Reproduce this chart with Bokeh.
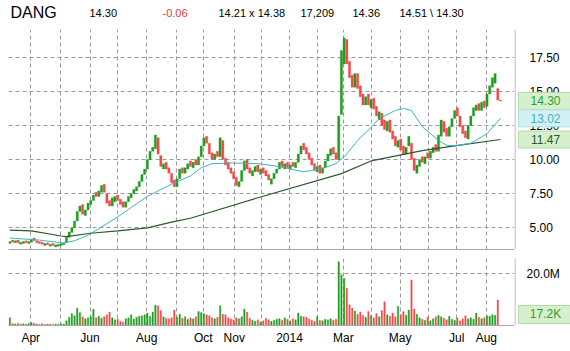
import pandas as pd
from bokeh.plotting import figure
from bokeh.layouts import column, row
from bokeh.models import FixedTicker, Range1d, ColumnDataSource, Span
from bokeh.core.properties import value
from bokeh.embed import file_html
from bokeh.resources import INLINE

# ---------------- data ----------------
symbol = "DANG"
header_texts = ["14.30", "-0.06", "14.21  x  14.38", "17,209", "14.36", "14.51 \\ 14.30"]

# each candle = 2 trading days, 2013-03-07 .. 2014-08-15
opens = [3.85, 4.10, 3.90, 4.10, 3.80, 3.85, 4.05, 3.85, 3.95, 4.25,
         4.05, 4.00, 3.95, 3.70, 3.90, 3.65, 3.85, 3.60, 3.65, 3.70,
         3.75, 3.95, 4.30, 4.65, 5.00, 5.50, 6.20, 6.70, 5.90, 6.30,
         6.70, 7.00, 7.60, 7.30, 7.60, 8.20, 7.50, 7.00, 6.60, 6.90,
         7.40, 7.10, 6.90, 6.50, 6.90, 7.20, 7.50, 7.70, 8.00, 8.40,
         8.90, 9.30, 10.00, 10.60, 10.80, 11.60, 10.30, 9.30, 9.80, 9.40,
         9.00, 8.50, 8.00, 8.60, 9.40, 9.00, 9.30, 9.90, 9.40, 10.00,
         9.60, 10.20, 11.00, 11.70, 11.20, 10.50, 10.00, 10.60, 10.20, 11.40,
         10.10, 9.80, 9.40, 9.10, 8.70, 8.00, 8.40, 9.20, 10.00, 9.40,
         8.80, 9.10, 9.60, 8.90, 9.40,
         9.2, 8.9, 8.2, 8.6, 9.0, 9.3, 9.9, 9.3, 9.8, 9.3,
         9.8, 9.4, 9.8, 10.4, 11.2, 10.9, 10.5, 10.1, 9.7, 9.1,
         9.6, 9.0, 9.4, 9.9, 10.3, 10.9, 10.5, 10.0, 13.3, 17.0,
         18.8, 17.2, 16.2, 15.3, 16.3, 15.4,
         14.8, 14.0, 14.8, 13.8, 14.5, 13.9, 12.9, 13.4, 12.9, 12.1,
         12.9, 12.1, 11.7, 10.9, 11.5, 11.0, 10.4, 11.0, 11.2, 10.1,
         9.0, 9.5, 10.2, 9.7, 10.5, 10.1, 10.5, 11.1, 10.6, 11.7,
         12.8, 12.3, 11.7, 12.4, 13.0, 13.8, 13.2, 12.5, 12.1, 11.5,
         12.5, 13.2, 13.6, 14.1, 13.6, 14.3, 13.9, 14.8, 15.3, 15.6,
         15.2, 14.36]

closes = [4.00, 3.95, 4.05, 3.90, 3.95, 4.00, 3.90, 4.00, 4.15, 4.05,
          3.90, 3.85, 3.80, 3.85, 3.75, 3.80, 3.70, 3.75, 3.80, 3.85,
          3.90, 4.30, 4.70, 5.00, 5.50, 6.20, 6.60, 6.00, 6.30, 6.80,
          7.00, 7.40, 7.30, 7.70, 8.10, 7.60, 6.80, 6.60, 7.20, 7.30,
          7.00, 6.70, 6.50, 6.90, 7.30, 7.50, 7.80, 8.00, 8.40, 8.90,
          9.30, 10.00, 10.60, 10.90, 11.80, 10.40, 9.50, 9.70, 9.30, 9.00,
          8.30, 8.00, 8.60, 9.30, 9.00, 9.40, 9.70, 9.50, 9.80, 9.60,
          10.20, 11.00, 11.60, 11.20, 10.40, 10.00, 10.40, 10.20, 11.60, 10.00,
          9.60, 9.30, 9.00, 8.60, 8.10, 8.40, 9.20, 9.90, 9.30, 9.00,
          9.20, 9.50, 9.10, 9.30, 9.00,
          8.8, 8.5, 8.6, 9.0, 9.3, 9.8, 9.5, 9.7, 9.4, 9.6,
          9.5, 9.8, 10.4, 11.0, 10.7, 10.4, 10.0, 9.6, 9.2, 9.5,
          9.0, 9.4, 9.9, 10.4, 10.8, 10.4, 10.0, 13.2, 18.0, 18.9,
          17.0, 16.0, 15.3, 16.3, 15.2, 14.6,
          14.0, 14.6, 14.0, 14.4, 13.7, 13.2, 13.5, 12.5, 12.2, 12.8,
          12.0, 11.5, 11.0, 11.4, 10.7, 10.4, 10.9, 11.7, 10.0, 9.2,
          9.6, 10.0, 9.8, 10.2, 10.1, 10.6, 10.9, 10.6, 11.8, 12.9,
          12.0, 11.7, 12.4, 13.0, 13.6, 13.2, 12.4, 11.9, 11.6, 12.5,
          13.2, 13.8, 14.0, 13.6, 14.2, 13.8, 14.8, 15.4, 16.0, 16.3,
          14.36, 14.30]

volumes_m = [3.0, 0.8, 0.6, 0.9, 0.5, 0.7, 0.6, 0.8, 1.2, 0.9,
             0.6, 0.5, 0.7, 0.4, 0.6, 0.5, 0.4, 0.6, 0.5, 0.7,
             0.6, 1.8, 3.2, 4.6, 3.8, 6.7, 5.0, 3.4, 2.6, 3.0,
             3.5, 6.3, 3.0, 3.6, 2.8, 3.4, 4.2, 5.2, 3.0, 2.2,
             2.4, 1.6, 1.4, 2.6, 3.0, 4.2, 2.5, 3.2, 3.6, 3.8,
             4.2, 4.8, 3.6, 5.2, 7.9, 7.6, 5.8, 3.4, 2.8, 2.6,
             3.0, 6.0, 3.2, 4.4, 2.8, 3.4, 2.4, 3.0, 2.6, 3.4,
             5.4, 5.0, 4.6, 4.2, 3.8, 3.0, 2.6, 3.2, 7.6, 4.4,
             4.2, 3.0, 2.6, 2.2, 3.0, 2.6, 3.4, 6.4, 5.2, 2.8,
             2.0, 1.6, 2.2, 1.4, 1.8,
             2.8, 2.2, 1.6, 2.0, 2.4, 2.6, 2.0, 3.0, 2.4, 1.8,
             2.6, 2.2, 4.8, 3.6, 3.4, 3.2, 2.6, 2.0, 1.6, 3.4,
             2.0, 1.8, 2.4, 2.2, 2.6, 2.0, 2.4, 24.7, 19.6, 18.3,
             14.4, 8.0, 6.8, 5.6, 4.4, 5.2,
             4.0, 3.2, 5.4, 3.8, 3.0, 4.6, 3.4, 5.8, 9.2, 4.2,
             3.6, 4.8, 3.4, 7.4, 4.2, 5.4, 4.0, 6.0, 17.6, 6.4,
             4.4, 3.0, 2.4, 2.0, 3.2, 1.8, 2.6, 3.4, 4.0, 3.4,
             2.8, 2.2, 3.6, 2.4, 2.0, 3.0, 1.8, 2.6, 3.8, 2.6,
             3.0, 2.4, 4.8, 3.2, 2.6, 3.0, 3.8, 3.6, 4.2, 4.0,
             9.9, 0.0172]

# 50-day moving average (cyan), sampled at candle positions
ma50_idx = [0, 11, 20, 24, 29, 40, 51, 60, 67, 71, 75, 82, 92, 98, 103,
            109, 116, 121, 125, 129, 134, 137, 143, 146, 149, 151, 153,
            159, 162, 165, 171, 177, 182]
ma50_val = [4.25, 4.10, 3.88, 4.05, 4.45, 5.80, 7.30, 8.20, 8.80, 9.40,
            9.70, 9.75, 9.70, 9.55, 9.35, 9.10, 9.35, 9.70, 10.40, 11.40,
            12.35, 13.00, 13.60, 13.75, 13.60, 13.00, 12.40, 11.40, 11.05,
            11.00, 11.20, 11.90, 13.02]

# 200-day moving average (dark green)
ma200_idx = [0, 8, 19, 21, 30, 40, 51, 60, 67, 92, 123, 134, 153, 165, 182]
ma200_val = [4.83, 4.78, 4.40, 4.35, 4.60, 4.78, 5.00, 5.42, 5.70, 7.20,
             8.97, 9.90, 10.65, 11.00, 11.47]

last_values = [14.30, 13.02, 11.47]
last_volume_text = "17.2K"

price_ticks = [5.0, 7.5, 10.0, 12.5, 15.0, 17.5]
volume_ticks = [20.0]
volume_tick_labels = ["20.0M"]
month_labels = ["Apr", "", "Jun", "", "Aug", "", "Oct", "Nov", "", "2014",
                "", "Mar", "", "May", "", "Jul", "Aug"]
holidays = ["2013-03-29", "2013-05-27", "2013-07-04", "2013-09-02",
            "2013-11-28", "2013-12-25", "2014-01-01", "2014-01-20",
            "2014-02-17", "2014-04-18", "2014-05-26", "2014-07-04"]

# ---------------- derived positions ----------------
days = pd.bdate_range("2013-03-07", "2014-08-15", freq="C", holidays=holidays)
month_starts = [i for i in range(1, len(days)) if days[i].month != days[i - 1].month]
month_ticks = [(d - 0.5) / 2.0 for d in month_starts]
label_ticks = [t for t, lab in zip(month_ticks, month_labels) if lab]
label_names = [lab for lab in month_labels if lab]

n = len(closes)
idx = list(range(n))
GREEN = "#1f9e1f"
RED = "#f24a4a"
BROWN = "#a8703a"
colors = []
for i in range(n):
    prev = closes[i - 1] if i > 0 else opens[i]
    if closes[i] >= opens[i] and closes[i] >= prev:
        colors.append(GREEN)
    elif closes[i] < opens[i] and closes[i] < prev:
        colors.append(RED)
    else:
        colors.append(BROWN)

src = ColumnDataSource(dict(
    x=idx,
    top=[max(o, c) for o, c in zip(opens, closes)],
    bottom=[min(o, c) for o, c in zip(opens, closes)],
    vol=volumes_m,
    color=colors,
))

FONT = "Liberation Sans"
GRID_COLOR = "#9a9a9a"
AXIS_COLOR = "#a8a8a8"


def base(fig):
    fig.outline_line_color = None
    fig.background_fill_color = "white"
    fig.border_fill_color = "white"
    return fig


def style_grid(g):
    g.grid_line_color = GRID_COLOR
    g.grid_line_dash = "4 3"
    g.grid_line_width = 1


# ---------------- header ----------------
h = base(figure(width=570, height=29, x_range=Range1d(0, 570), y_range=Range1d(29, 0),
                x_axis_location=None, y_axis_location=None, output_backend="svg",
                toolbar_location=None, min_border_left=0, min_border_right=0,
                min_border_top=0, min_border_bottom=0))
h.grid.visible = False
h.text(x=[10], y=[12], text=[symbol], text_font=value(FONT), text_font_size="16px",
       text_color="black", text_baseline="middle", text_align="left")
h.text(x=[89, 162, 218, 300, 352, 399], y=[12] * 6, text=header_texts,
       text_color=["black", "#e03c3c", "black", "black", "black", "black"],
       text_font=value(FONT), text_font_size="11px",
       text_baseline="middle", text_align="left")

# ---------------- price panel ----------------
xr = Range1d(-0.5, 187.2)
p = base(figure(width=514, height=226, x_range=xr, y_range=Range1d(3.41, 19.53),
                output_backend="svg", toolbar_location=None, y_axis_location=None,
                x_axis_location="below", min_border_left=8, min_border_right=0,
                min_border_top=0, min_border_bottom=6))
p.xaxis.ticker = FixedTicker(ticks=[])
p.xaxis.major_label_standoff = 0
p.xaxis.major_tick_out = 0
p.xaxis.major_tick_in = 0
p.xaxis.minor_tick_out = 0
p.xaxis.minor_tick_in = 0
p.xaxis.axis_line_color = AXIS_COLOR
p.xgrid.ticker = FixedTicker(ticks=month_ticks)
p.ygrid.ticker = FixedTicker(ticks=price_ticks)
style_grid(p.xgrid)
style_grid(p.ygrid)

p.vbar(x="x", width=0.85, top="top", bottom="bottom", source=src,
       fill_color="color", line_color="color", line_width=0.3)
p.line(ma200_idx, ma200_val, color="#2b5a2b", line_width=1.2)
p.line(ma50_idx, ma50_val, color="#3fb3c6", line_width=1.0)

# price side (right axis + value boxes)
ps = base(figure(width=56, height=226, x_range=Range1d(0, 56), y_range=p.y_range,
                 x_axis_location=None, y_axis_location=None, output_backend="svg",
                 toolbar_location=None, min_border_left=0, min_border_right=0,
                 min_border_top=0, min_border_bottom=6))
ps.grid.visible = False
ps.add_layout(Span(location=0.5, dimension="height", line_color=AXIS_COLOR, line_width=1))
ps.text(x=[15] * len(price_ticks), y=price_ticks, text=[f"{t:.2f}" for t in price_ticks],
        text_font=value(FONT), text_font_size="12px", text_color="black",
        text_baseline="middle", text_align="left")
ps.rect(x=[30] * 3, y=last_values, width=52, height=17, height_units="screen",
        fill_color=["#d6efcc", "#d3f1f5", "#d6efcc"],
        line_color=["#b5d8a8", "#b0dde6", "#b5d8a8"], line_width=1)
ps.text(x=[31] * 3, y=last_values, text=[f"{v_:.2f}" for v_ in last_values],
        text_color=["#2e9e2e", "#3fb3c6", "#2b5a2b"],
        text_font=value(FONT), text_font_size="12px",
        text_baseline="middle", text_align="center")

# ---------------- volume panel ----------------
v = base(figure(width=514, height=96, x_range=xr, y_range=Range1d(0, 25.92),
                output_backend="svg", toolbar_location=None, y_axis_location=None,
                min_border_left=8, min_border_right=0, min_border_top=3,
                min_border_bottom=26))
v.vbar(x="x", width=0.55, top="vol", bottom=0, source=src,
       fill_color="color", line_color="color", line_width=0.3)
v.xaxis.ticker = FixedTicker(ticks=label_ticks)
v.xaxis.major_label_overrides = {t: lab for t, lab in zip(label_ticks, label_names)}
v.xaxis.major_tick_out = 0
v.xaxis.major_tick_in = 0
v.xaxis.minor_tick_out = 0
v.xaxis.minor_tick_in = 0
v.xaxis.axis_line_color = AXIS_COLOR
v.xaxis.major_label_standoff = 5
v.xaxis.major_label_text_font = FONT
v.xaxis.major_label_text_font_size = "12px"
v.xaxis.major_label_text_color = "black"
v.xgrid.ticker = FixedTicker(ticks=month_ticks)
v.ygrid.ticker = FixedTicker(ticks=volume_ticks)
style_grid(v.xgrid)
style_grid(v.ygrid)

vs = base(figure(width=56, height=96, x_range=Range1d(0, 56), y_range=v.y_range,
                 x_axis_location=None, y_axis_location=None, output_backend="svg",
                 toolbar_location=None, min_border_left=0, min_border_right=0,
                 min_border_top=3, min_border_bottom=26))
vs.grid.visible = False
vs.add_layout(Span(location=0.5, dimension="height", line_color=AXIS_COLOR, line_width=1))
vs.text(x=[12], y=volume_ticks, text=volume_tick_labels,
        text_font=value(FONT), text_font_size="12px", text_color="black",
        text_baseline="middle", text_align="left")
vs.rect(x=[30], y=[4.26], width=52, height=18, height_units="screen",
        fill_color="#d6efcc", line_color="#b5d8a8", line_width=1)
vs.text(x=[31], y=[4.26], text=[last_volume_text], text_color="#2e9e2e",
        text_font=value(FONT), text_font_size="12px",
        text_baseline="middle", text_align="center")

layout = column(h, row(p, ps, spacing=0), row(v, vs, spacing=0), spacing=0)
open("out.html", "w").write(file_html(layout, INLINE))
